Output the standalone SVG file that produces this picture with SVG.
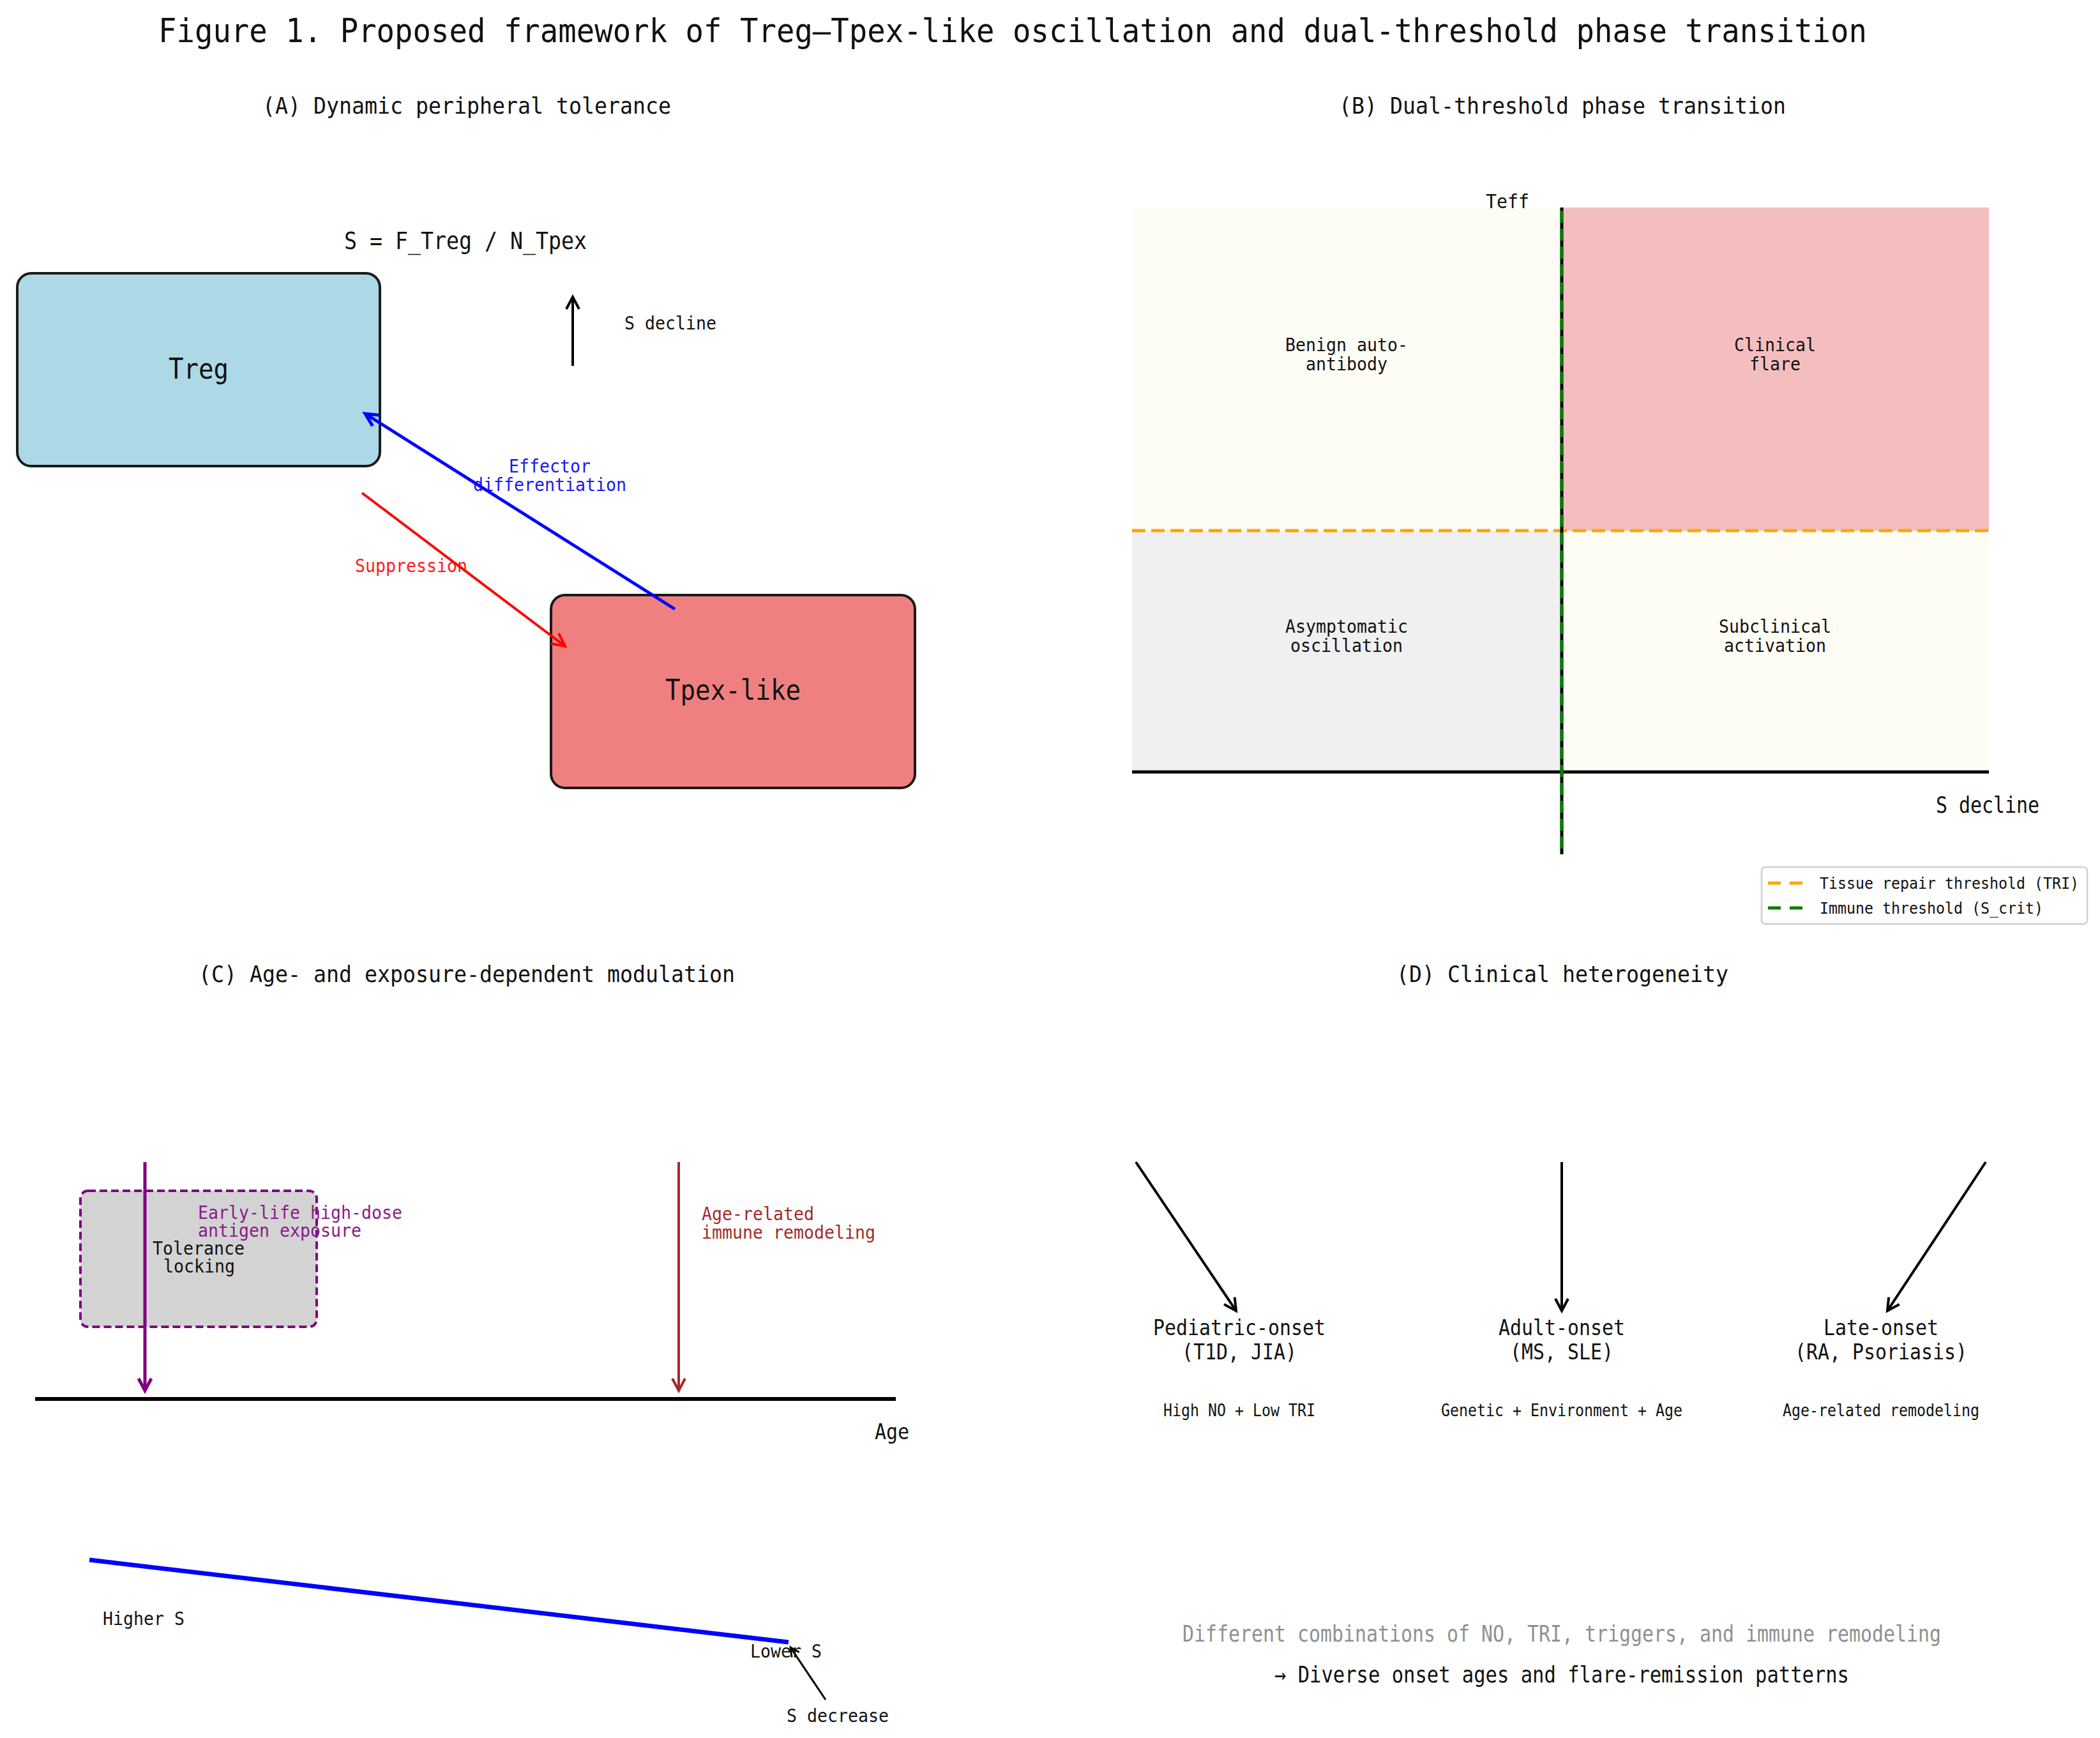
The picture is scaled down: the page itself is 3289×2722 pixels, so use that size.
<svg xmlns="http://www.w3.org/2000/svg" width="3289" height="2722" viewBox="0 0 3289 2722">
<defs>
<style>
text{font-family:"DejaVu Sans Mono","Liberation Mono",monospace;fill:#111;}
.m{text-anchor:middle}
.s{font-size:29px}
.lbl{font-size:34px}
.sub{font-size:27px}
.ptitle{font-size:36px}
.node{stroke:#1a1a1a;stroke-width:4}
.conn{fill:none}
</style>
<marker id="ah-k" markerUnits="userSpaceOnUse" markerWidth="40" markerHeight="40" viewBox="-30 -20 40 40" refX="0" refY="0" orient="auto" overflow="visible"><path d="M-19,-10 L0,0 L-19,10" fill="none" stroke="#000" stroke-width="4"/></marker>
<marker id="ah-ks" markerUnits="userSpaceOnUse" markerWidth="40" markerHeight="40" viewBox="-30 -20 40 40" refX="0" refY="0" orient="auto" overflow="visible"><path d="M-14,-7 L0,0 L-14,7" fill="none" stroke="#000" stroke-width="3"/></marker>
<marker id="ah-b" markerUnits="userSpaceOnUse" markerWidth="40" markerHeight="40" viewBox="-30 -20 40 40" refX="0" refY="0" orient="auto" overflow="visible"><path d="M-20,-10 L0,0 L-20,10" fill="none" stroke="#0000FF" stroke-width="5"/></marker>
<marker id="ah-r" markerUnits="userSpaceOnUse" markerWidth="40" markerHeight="40" viewBox="-30 -20 40 40" refX="0" refY="0" orient="auto" overflow="visible"><path d="M-20,-10 L0,0 L-20,10" fill="none" stroke="#FF0000" stroke-width="4"/></marker>
<marker id="ah-p" markerUnits="userSpaceOnUse" markerWidth="40" markerHeight="40" viewBox="-30 -20 40 40" refX="0" refY="0" orient="auto" overflow="visible"><path d="M-19,-10 L0,0 L-19,10" fill="none" stroke="#800080" stroke-width="5"/></marker>
<marker id="ah-br" markerUnits="userSpaceOnUse" markerWidth="40" markerHeight="40" viewBox="-30 -20 40 40" refX="0" refY="0" orient="auto" overflow="visible"><path d="M-19,-10 L0,0 L-19,10" fill="none" stroke="#A52A2A" stroke-width="4"/></marker>
</defs>
<rect width="3289" height="2722" fill="#ffffff"/>

<text x="248" y="66" font-size="51" textLength="2676" lengthAdjust="spacingAndGlyphs">Figure 1. Proposed framework of Treg–Tpex-like oscillation and dual-threshold phase transition</text>

<!-- Panel titles -->
<text class="m ptitle" x="731" y="178" textLength="640" lengthAdjust="spacingAndGlyphs">(A) Dynamic peripheral tolerance</text>
<text class="m ptitle" x="2447" y="178" textLength="700" lengthAdjust="spacingAndGlyphs">(B) Dual-threshold phase transition</text>
<text class="m ptitle" x="731" y="1538" textLength="840" lengthAdjust="spacingAndGlyphs">(C) Age- and exposure-dependent modulation</text>
<text class="m ptitle" x="2447" y="1538" textLength="520" lengthAdjust="spacingAndGlyphs">(D) Clinical heterogeneity</text>

<!-- Panel A -->
<text class="m" x="729" y="390" font-size="38" textLength="380" lengthAdjust="spacingAndGlyphs">S = F_Treg / N_Tpex</text>
<g id="treg">
<rect class="node" x="27" y="428" width="568" height="302" rx="22" fill="#ADD8E6"/>
<text class="m" x="311" y="593" font-size="45" textLength="94" lengthAdjust="spacingAndGlyphs">Treg</text>
</g>
<g id="tpex">
<rect class="node" x="863" y="932" width="570" height="302" rx="22" fill="#F08080"/>
<text class="m" x="1148" y="1096" font-size="44" textLength="212" lengthAdjust="spacingAndGlyphs">Tpex-like</text>
</g>
<text class="s" x="978" y="516" textLength="144" lengthAdjust="spacingAndGlyphs">S decline</text>
<text class="m s" x="861" y="740" style="fill:#1a1aee" textLength="128" lengthAdjust="spacingAndGlyphs">Effector</text>
<text class="m s" x="861" y="769" style="fill:#1a1aee" textLength="240" lengthAdjust="spacingAndGlyphs">differentiation</text>
<text class="m s" x="644" y="896" style="fill:#ff1a1a" textLength="176" lengthAdjust="spacingAndGlyphs">Suppression</text>

<!-- Panel B -->
<g id="quadrants">
<rect x="1773" y="325" width="673" height="506" fill="#FEFDF5"/>
<rect x="2446" y="325" width="669" height="506" fill="#F5BEBE"/>
<rect x="1773" y="831" width="673" height="378" fill="#F0F0F0"/>
<rect x="2446" y="831" width="669" height="378" fill="#FEFDF5"/>
<line x1="1773" y1="831" x2="3115" y2="831" stroke="#FFA500" stroke-width="5" stroke-dasharray="21 9"/>
<line x1="1773" y1="1209" x2="3115" y2="1209" stroke="#000" stroke-width="5"/>
<line x1="2446" y1="325" x2="2446" y2="1338" stroke="#000" stroke-width="5"/>
<line x1="2446" y1="330" x2="2446" y2="1338" stroke="#008000" stroke-width="5" stroke-dasharray="19 9"/>
</g>
<text class="m" x="2361" y="326" font-size="31" textLength="68" lengthAdjust="spacingAndGlyphs">Teff</text>
<text class="m s" x="2109" y="550" textLength="192" lengthAdjust="spacingAndGlyphs">Benign auto-</text>
<text class="m s" x="2109" y="580" textLength="128" lengthAdjust="spacingAndGlyphs">antibody</text>
<text class="m s" x="2780" y="550" textLength="128" lengthAdjust="spacingAndGlyphs">Clinical</text>
<text class="m s" x="2780" y="580" textLength="80" lengthAdjust="spacingAndGlyphs">flare</text>
<text class="m s" x="2109" y="991" textLength="192" lengthAdjust="spacingAndGlyphs">Asymptomatic</text>
<text class="m s" x="2109" y="1021" textLength="176" lengthAdjust="spacingAndGlyphs">oscillation</text>
<text class="m s" x="2780" y="991" textLength="176" lengthAdjust="spacingAndGlyphs">Subclinical</text>
<text class="m s" x="2780" y="1021" textLength="160" lengthAdjust="spacingAndGlyphs">activation</text>
<text class="m" x="3113" y="1273" font-size="35" textLength="162" lengthAdjust="spacingAndGlyphs">S decline</text>
<g id="legend">
<rect x="2759" y="1358" width="510" height="89" rx="6" fill="#fff" stroke="#d0d0d0" stroke-width="2.5"/>
<line x1="2769" y1="1383" x2="2825" y2="1383" stroke="#FFA500" stroke-width="5" stroke-dasharray="20 14"/>
<line x1="2769" y1="1422" x2="2825" y2="1422" stroke="#008000" stroke-width="5" stroke-dasharray="20 14"/>
<text x="2850" y="1392" font-size="24" textLength="406" lengthAdjust="spacingAndGlyphs">Tissue repair threshold (TRI)</text>
<text x="2850" y="1431" font-size="24" textLength="350" lengthAdjust="spacingAndGlyphs">Immune threshold (S_crit)</text>
</g>

<!-- Panel C -->
<g id="tolerance-box">
<rect x="126" y="1865" width="370" height="213" rx="12" fill="#D3D3D3" stroke="#800080" stroke-width="4" stroke-dasharray="12 6"/>
<text class="m s" x="311" y="1965" textLength="144" lengthAdjust="spacingAndGlyphs">Tolerance</text>
<text class="m s" x="312" y="1993" textLength="112" lengthAdjust="spacingAndGlyphs">locking</text>
</g>
<line x1="55" y1="2191" x2="1403" y2="2191" stroke="#000" stroke-width="6"/>
<line x1="140" y1="2443" x2="1235" y2="2572" stroke="#0000FF" stroke-width="7"/>
<text class="s" x="310" y="1909" style="fill:#8a1a8a" textLength="320" lengthAdjust="spacingAndGlyphs">Early-life high-dose</text>
<text class="s" x="310" y="1937" style="fill:#8a1a8a" textLength="256" lengthAdjust="spacingAndGlyphs">antigen exposure</text>
<text class="s" x="1099" y="1911" style="fill:#A52A2A" textLength="176" lengthAdjust="spacingAndGlyphs">Age-related</text>
<text class="s" x="1099" y="1940" style="fill:#A52A2A" textLength="272" lengthAdjust="spacingAndGlyphs">immune remodeling</text>
<text class="m" x="1397" y="2254" font-size="34" textLength="54" lengthAdjust="spacingAndGlyphs">Age</text>
<text class="s" x="161" y="2545" textLength="128" lengthAdjust="spacingAndGlyphs">Higher S</text>
<text class="s" x="1175" y="2596" textLength="112" lengthAdjust="spacingAndGlyphs">Lower S</text>
<text class="s" x="1232" y="2697" textLength="160" lengthAdjust="spacingAndGlyphs">S decrease</text>

<!-- Panel D -->
<g id="pediatric">
<text class="m lbl" x="1941" y="2091" textLength="270" lengthAdjust="spacingAndGlyphs">Pediatric-onset</text>
<text class="m lbl" x="1941" y="2129" textLength="180" lengthAdjust="spacingAndGlyphs">(T1D, JIA)</text>
<text class="m sub" x="1941" y="2218" textLength="238" lengthAdjust="spacingAndGlyphs">High NO + Low TRI</text>
</g>
<g id="adult">
<text class="m lbl" x="2446" y="2091" textLength="198" lengthAdjust="spacingAndGlyphs">Adult-onset</text>
<text class="m lbl" x="2446" y="2129" textLength="162" lengthAdjust="spacingAndGlyphs">(MS, SLE)</text>
<text class="m sub" x="2446" y="2218" textLength="378" lengthAdjust="spacingAndGlyphs">Genetic + Environment + Age</text>
</g>
<g id="late">
<text class="m lbl" x="2946" y="2091" textLength="180" lengthAdjust="spacingAndGlyphs">Late-onset</text>
<text class="m lbl" x="2946" y="2129" textLength="270" lengthAdjust="spacingAndGlyphs">(RA, Psoriasis)</text>
<text class="m sub" x="2946" y="2218" textLength="308" lengthAdjust="spacingAndGlyphs">Age-related remodeling</text>
</g>
<text class="m" x="2446" y="2571" font-size="35" style="fill:#909090" textLength="1188" lengthAdjust="spacingAndGlyphs">Different combinations of NO, TRI, triggers, and immune remodeling</text>
<text class="m" x="2446" y="2635" font-size="35" textLength="900" lengthAdjust="spacingAndGlyphs">→ Diverse onset ages and flare-remission patterns</text>

<!-- Connectors -->
<g id="connectors" class="conn">
<line x1="1057" y1="954" x2="572" y2="648" stroke="#0000FF" stroke-width="5" marker-end="url(#ah-b)"/>
<line x1="567" y1="772" x2="885" y2="1012" stroke="#FF0000" stroke-width="4" marker-end="url(#ah-r)"/>
<line x1="897" y1="573" x2="897" y2="465" stroke="#000" stroke-width="4" marker-end="url(#ah-k)"/>
<line x1="227" y1="1820" x2="227" y2="2178" stroke="#800080" stroke-width="5" marker-end="url(#ah-p)"/>
<line x1="1063" y1="1820" x2="1063" y2="2178" stroke="#A52A2A" stroke-width="4" marker-end="url(#ah-br)"/>
<line x1="1293" y1="2662" x2="1238" y2="2580" stroke="#000" stroke-width="3" marker-end="url(#ah-ks)"/>
<line x1="1779" y1="1820" x2="1936" y2="2053" stroke="#000" stroke-width="4" marker-end="url(#ah-k)"/>
<line x1="2446" y1="1820" x2="2446" y2="2053" stroke="#000" stroke-width="4" marker-end="url(#ah-k)"/>
<line x1="3110" y1="1820" x2="2956" y2="2053" stroke="#000" stroke-width="4" marker-end="url(#ah-k)"/>
</g>
</svg>
